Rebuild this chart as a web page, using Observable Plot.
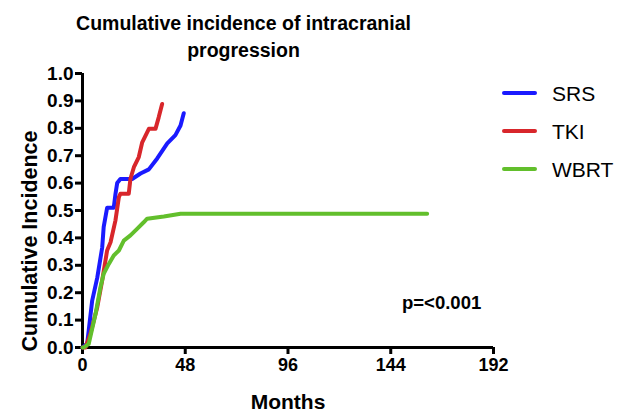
<!DOCTYPE html>
<html>
<head>
<meta charset="utf-8">
<script src="https://cdn.jsdelivr.net/npm/d3@7"></script>
<script src="https://cdn.jsdelivr.net/npm/@observablehq/plot@0.6"></script>
<style>
  html, body { margin: 0; padding: 0; background: white; }
  #chart { width: 617px; height: 412px; }
  #chart g[aria-label="x-axis tick label"] { font-size: 18px !important; font-weight: bold !important; }
  #chart g[aria-label="y-axis tick label"] { font-size: 19px !important; font-weight: bold !important; }
</style>
</head>
<body>
<div id="chart"></div>
<script>
// ---- Data ----
const seriesNames = ["SRS", "TKI", "WBRT"];
const seriesColors = ["#1a1aff", "#d8262b", "#62bf2c"];

const srsMonths = [0, 2.2, 4.5, 6.9, 9.2, 9.9, 11.5, 14.6, 15.4, 16.2, 17.7, 23.2, 27.1, 31.0, 34.9, 39.6, 43.4, 45.8, 47.3];
const srsValues = [0, 0.015, 0.17, 0.255, 0.365, 0.44, 0.51, 0.51, 0.56, 0.60, 0.615, 0.615, 0.635, 0.65, 0.69, 0.745, 0.775, 0.81, 0.855];

const tkiMonths = [0, 1.4, 3.7, 6.9, 9.2, 11.5, 13.1, 15.4, 17.0, 17.7, 21.6, 22.4, 24.0, 26.3, 27.9, 31.0, 34.1, 35.6, 37.2];
const tkiValues = [0, 0.0, 0.05, 0.147, 0.245, 0.354, 0.384, 0.464, 0.549, 0.561, 0.561, 0.616, 0.658, 0.695, 0.749, 0.798, 0.798, 0.84, 0.889];

const wbrtMonths = [0, 0.6, 2.9, 6.1, 8.4, 9.9, 12.3, 14.6, 17.0, 19.3, 22.4, 25.5, 28.6, 30.2, 38.0, 45.8, 161];
const wbrtValues = [0, 0, 0.013, 0.123, 0.22, 0.269, 0.305, 0.336, 0.354, 0.39, 0.409, 0.433, 0.457, 0.47, 0.478, 0.488, 0.488];

const xTicks = [0, 48, 96, 144, 192];
const yTicks = [0, 0.1, 0.2, 0.3, 0.4, 0.5, 0.6, 0.7, 0.8, 0.9, 1.0];

const titleLines = ["Cumulative incidence of intracranial", "progression"];
const xLabel = "Months";
const yLabel = "Cumulative Incidence";
const pText = "p=<0.001";

// ---- Build table ----
const seriesData = [
  [srsMonths, srsValues],
  [tkiMonths, tkiValues],
  [wbrtMonths, wbrtValues]
];
const rows = [];
seriesData.forEach(([ms, vs], i) => {
  ms.forEach((m, j) => rows.push({group: seriesNames[i], month: m, value: vs[j]}));
});

const font = "'Liberation Sans', Arial, Helvetica, sans-serif";

const chart = Plot.plot({
  width: 617,
  height: 412,
  marginLeft: 82,
  marginRight: 124,
  marginTop: 73,
  marginBottom: 65,
  style: {fontFamily: font, background: "white", color: "black", overflow: "visible"},
  x: {domain: [0, 192]},
  y: {domain: [0, 1]},
  color: {domain: seriesNames, range: seriesColors},
  marks: [
    Plot.axisX({ticks: xTicks, tickSize: 7, strokeWidth: 3, tickPadding: 4, fontSize: 18, fontWeight: "bold", label: null}),
    Plot.axisY({ticks: yTicks, tickSize: 7, strokeWidth: 3, tickPadding: 2, fontSize: 19, fontWeight: "bold", tickFormat: d3.format(".1f"), label: null}),
    Plot.ruleX([0], {strokeWidth: 3, y1: 0, y2: 1}),
    Plot.ruleY([0], {strokeWidth: 3}),
    Plot.line(rows, {x: "month", y: "value", z: "group", stroke: "group", strokeWidth: 4, curve: "linear", strokeLinejoin: "round", strokeLinecap: "round"})
  ]
});

document.getElementById("chart").appendChild(chart);

// ---- Annotations: title, axis labels, legend, p-value ----
const svg = d3.select(chart);
const t = svg.append("g").attr("font-family", font).attr("fill", "black");

titleLines.forEach((line, i) => {
  t.append("text")
    .attr("x", 243.5).attr("y", 30 + i * 27)
    .attr("text-anchor", "middle")
    .attr("font-size", 19.5).attr("font-weight", "bold")
    .text(line);
});

t.append("text")
  .attr("x", 288).attr("y", 409)
  .attr("text-anchor", "middle")
  .attr("font-size", 21).attr("font-weight", "bold")
  .text(xLabel);

t.append("text")
  .attr("transform", "translate(37,241) rotate(-90)")
  .attr("text-anchor", "middle")
  .attr("font-size", 21.5).attr("font-weight", "bold")
  .text(yLabel);

t.append("text")
  .attr("x", 402).attr("y", 309)
  .attr("text-anchor", "start")
  .attr("font-size", 18.5).attr("font-weight", "bold")
  .text(pText);

const legend = svg.append("g").attr("font-family", font);
seriesNames.forEach((name, i) => {
  const cy = 93 + i * 38;
  legend.append("line")
    .attr("x1", 504).attr("x2", 535).attr("y1", cy).attr("y2", cy)
    .attr("stroke", seriesColors[i]).attr("stroke-width", 4).attr("stroke-linecap", "round");
  legend.append("text")
    .attr("x", 552).attr("y", cy + 7.5)
    .attr("text-anchor", "start")
    .attr("font-size", 21)
    .attr("fill", "black")
    .text(name);
});
</script>
</body>
</html>
